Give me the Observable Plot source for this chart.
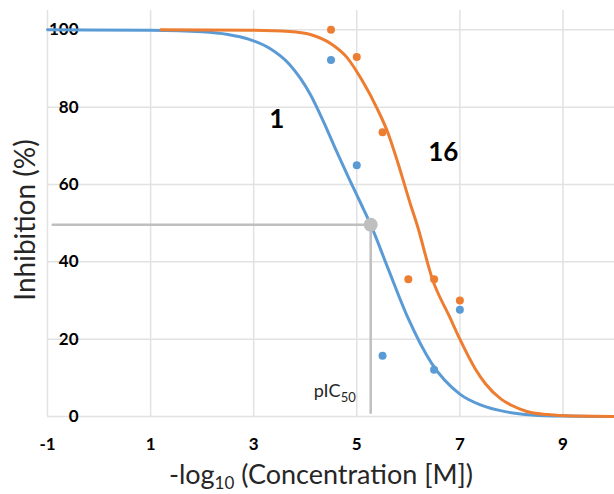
<!DOCTYPE html>
<html>
<head>
<meta charset="utf-8">
<script src="https://cdn.jsdelivr.net/npm/d3@7"></script>
<script src="https://cdn.jsdelivr.net/npm/@observablehq/plot@0.6"></script>
<style>
  html, body { margin: 0; padding: 0; background: #fff; }
  #chart svg { display: block; }
</style>
</head>
<body>
<div id="chart"></div>
<script>
// ---- data ----
const xTicks = [-1, 1, 3, 5, 7, 9];
const yTicks = [0, 20, 40, 60, 80, 100];

// fitted curve of compound 1 (blue)
const blueCurveX = [-1, 1, 2, 2.5, 2.9, 3.3, 3.7, 4.1, 4.35, 4.6, 4.85, 5.1, 5.27, 5.6, 6.0, 6.45, 7.0, 7.4, 7.9, 8.4, 9.0, 10];
const blueCurveY = [100, 99.9, 99.5, 98.8, 97.6, 95.3, 91.0, 83.3, 76.4, 68.8, 61.5, 54.5, 49.6, 38.5, 25.3, 13.8, 5.8, 3.0, 1.2, 0.4, 0.1, 0];

// fitted curve of compound 16 (orange)
const orangeCurveX = [1.2, 3.0, 3.7, 4.1, 4.5, 4.8, 5.1, 5.4, 5.6, 5.8, 6.05, 6.17, 6.47, 6.8, 7.0, 7.3, 7.5, 7.8, 8.0, 8.3, 8.7, 9.2, 10];
const orangeCurveY = [100, 99.9, 99.6, 98.8, 96.4, 93.0, 87.0, 79.5, 73.5, 65.5, 54.5, 49.6, 35.4, 25.8, 20.0, 12.3, 8.4, 4.5, 2.9, 1.3, 0.5, 0.1, 0];

// measured points
const bluePointsX = [4.5, 5.0, 5.5, 6.5, 7.0];
const bluePointsY = [92.2, 65.0, 15.7, 12.1, 27.6];
const orangePointsX = [4.5, 5.0, 5.5, 6.0, 6.5, 7.0];
const orangePointsY = [100, 93.0, 73.5, 35.5, 35.5, 30.0];

// pIC50 guide for compound 1
const pic50 = 5.27;
const pic50Y = 49.6;
const guideX = [-0.9, pic50, pic50];
const guideY = [pic50Y, pic50Y, 1];

// curve labels
const labelText = ["1", "16"];
const labelX = [3.45, 6.68];
const labelY = [76.8, 68.3];

const blue = "#5b9bd5";
const orange = "#ed7d31";
const gray = "#bfbfbf";

const zip = (xs, ys) => xs.map((x, i) => ({x, y: ys[i]}));
const blueCurve = zip(blueCurveX, blueCurveY);
const orangeCurve = zip(orangeCurveX, orangeCurveY);
const bluePts = zip(bluePointsX, bluePointsY);
const orangePts = zip(orangePointsX, orangePointsY);
const guide = zip(guideX, guideY);
const labels = labelText.map((t, i) => ({t, x: labelX[i], y: labelY[i]}));

const plot = Plot.plot({
  width: 614,
  height: 494,
  marginLeft: 47,
  marginRight: 0,
  marginTop: 10,
  marginBottom: 78,
  style: {fontFamily: "Lato, 'Open Sans', sans-serif", background: "#fff", color: "#000"},
  x: {domain: [-1, 10]},
  y: {domain: [0, 105]},
  marks: [
    Plot.gridX(xTicks, {stroke: "#e2e2e2", strokeOpacity: 1, strokeWidth: 1.5}),
    Plot.gridY(yTicks, {stroke: "#e2e2e2", strokeOpacity: 1, strokeWidth: 1.5}),
    Plot.axisX(xTicks, {tickSize: 0, tickPadding: 21, fontSize: 17, fontWeight: "bold", label: null, tickFormat: d => `${d}`}),
    Plot.axisY(yTicks, {tickSize: 0, tickPadding: -31, fontSize: 17, fontWeight: "bold", label: null, tickFormat: d => `${d}`}),
    Plot.line(guide, {x: "x", y: "y", stroke: gray, strokeWidth: 2.5}),
    Plot.line(blueCurve, {x: "x", y: "y", stroke: blue, strokeWidth: 3, curve: "monotone-x"}),
    Plot.line(orangeCurve, {x: "x", y: "y", stroke: orange, strokeWidth: 3, curve: "monotone-x"}),
    Plot.dot(bluePts, {x: "x", y: "y", r: 4, fill: blue}),
    Plot.dot(orangePts, {x: "x", y: "y", r: 4, fill: orange}),
    Plot.dot([{x: pic50, y: pic50Y}], {x: "x", y: "y", r: 7, fill: gray}),
    Plot.text(labels, {x: "x", y: "y", text: "t", fontSize: 26, fontWeight: "bold", fill: "#000"})
  ]
});

document.getElementById("chart").appendChild(plot);

const svg = d3.select(plot);
const sx = plot.scale("x"), sy = plot.scale("y");

// pIC50 label with subscript
const pt = svg.append("text")
  .attr("x", sx.apply(4.99))
  .attr("y", sy.apply(4.9))
  .attr("text-anchor", "end")
  .attr("font-family", "Lato, sans-serif")
  .attr("font-size", 18)
  .attr("fill", "#262626");
pt.append("tspan").text("pIC");
pt.append("tspan").attr("font-size", 13).attr("dy", 5).text("50");

// x axis label
const xl = svg.append("text")
  .attr("x", 321)
  .attr("y", 484)
  .attr("text-anchor", "middle")
  .attr("font-family", "Lato, sans-serif")
  .attr("font-size", 27)
  .attr("fill", "#262626");
xl.append("tspan").text("-log");
xl.append("tspan").attr("font-size", 17).attr("dy", 5).text("10");
xl.append("tspan").attr("dy", -5).text(" (Concentration [M])");

// y axis label
svg.append("text")
  .attr("transform", "translate(35,220) rotate(-90)")
  .attr("text-anchor", "middle")
  .attr("font-family", "Lato, sans-serif")
  .attr("font-size", 28)
  .attr("fill", "#262626")
  .text("Inhibition (%)");
</script>
</body>
</html>
